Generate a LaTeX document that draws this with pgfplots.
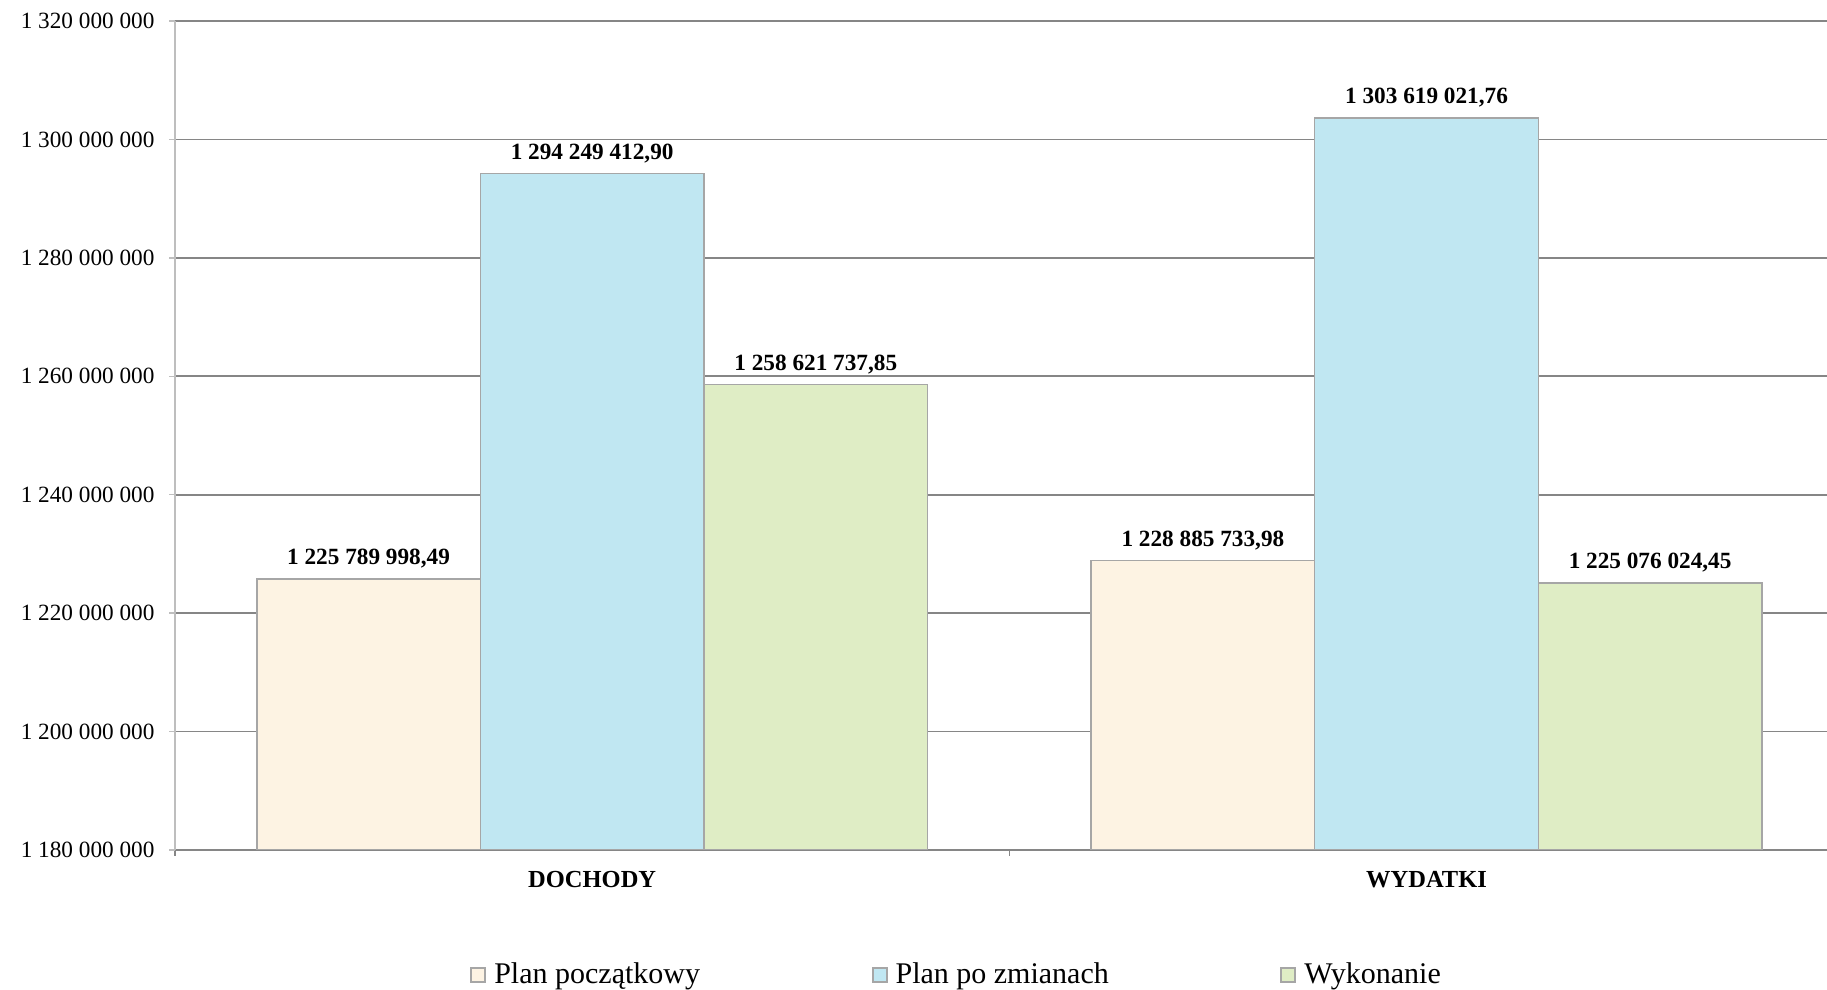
\documentclass[border=0pt]{standalone}
\usepackage{fontspec}
\setmainfont{Liberation Serif}
\usepackage{pgfplots}
\pgfplotsset{compat=1.18}

\definecolor{plana}{RGB}{253,243,227}
\definecolor{planb}{RGB}{192,231,242}
\definecolor{wykon}{RGB}{223,237,197}
\definecolor{ramka}{RGB}{166,166,166}
\definecolor{siatka}{RGB}{134,134,134}
\definecolor{osy}{RGB}{190,190,190}

\pgfplotsset{
  kwadrat/.style={legend image code/.code={%
      \draw[##1, line width=0.8pt] (0pt,-2.8pt) rectangle (5.6pt,2.8pt);
      \path[draw=none, fill=none] (0pt,0pt) rectangle (8pt,0.1pt);}},
}

\begin{document}
\begin{tikzpicture}
\useasboundingbox (0,0) rectangle (730.8pt,396pt);
\begin{axis}[
  at={(70pt,56pt)}, anchor=south west,
  scale only axis, width=660.8pt, height=331.6pt,
  ybar, bar width=0.268,
  xmin=-0.5, xmax=1.48,
  ymin=1180000000, ymax=1320000000,
  ytick={1180000000,1200000000,1220000000,1240000000,1260000000,1280000000,1300000000,1320000000},
  yticklabels={1 180 000 000,1 200 000 000,1 220 000 000,1 240 000 000,1 260 000 000,1 280 000 000,1 300 000 000,1 320 000 000},
  xtick={0,1}, xticklabels={DOCHODY,WYDATKI},
  minor xtick={-0.5,0.5},
  axis x line*=bottom, axis y line*=left,
  x axis line style={draw=siatka, line width=0.8pt},
  y axis line style={draw=osy, line width=0.6pt},
  tick align=outside, major tick length=2.4pt, minor tick length=2.4pt,
  major x tick style={draw=none},
  minor x tick style={draw=siatka, line width=0.6pt},
  major y tick style={draw=osy, line width=0.6pt},
  ymajorgrids, grid style={draw=siatka, line width=0.7pt},
  yticklabel style={font=\fontsize{9.3}{11}\selectfont, inner sep=0pt, anchor=east, xshift=-5.6pt},
  xticklabel style={font=\bfseries\fontsize{9.8}{12}\selectfont, inner sep=0pt, anchor=base, yshift=-12.6pt},
  point meta=explicit symbolic,
  nodes near coords={\pgfplotspointmeta},
  nodes near coords style={font=\bfseries\fontsize{9.3}{11}\selectfont, inner sep=0pt, anchor=south, yshift=3.9pt, text=black},
  legend style={at={(0.4734,-0.1505)}, anchor=center, draw=none, fill=none,
    font=\fontsize{12}{14}\selectfont, legend columns=3, inner sep=0pt,
    nodes={inner sep=1.2pt},
    /tikz/every even column/.append style={column sep=67.4pt}},
]
\addplot[fill=plana, draw=ramka, line width=0.6pt, bar shift=-0.268, kwadrat] coordinates {
  (0,1225789998.49) [1 225 789 998,49]
  (1,1228885733.98) [1 228 885 733,98]
};
\addplot[fill=planb, draw=ramka, line width=0.6pt, bar shift=0, kwadrat] coordinates {
  (0,1294249412.90) [1 294 249 412,90]
  (1,1303619021.76) [1 303 619 021,76]
};
\addplot[fill=wykon, draw=ramka, line width=0.6pt, bar shift=0.268, kwadrat] coordinates {
  (0,1258621737.85) [1 258 621 737,85]
  (1,1225076024.45) [1 225 076 024,45]
};
\legend{Plan początkowy, Plan po zmianach, Wykonanie}
\end{axis}
\end{tikzpicture}
\end{document}
